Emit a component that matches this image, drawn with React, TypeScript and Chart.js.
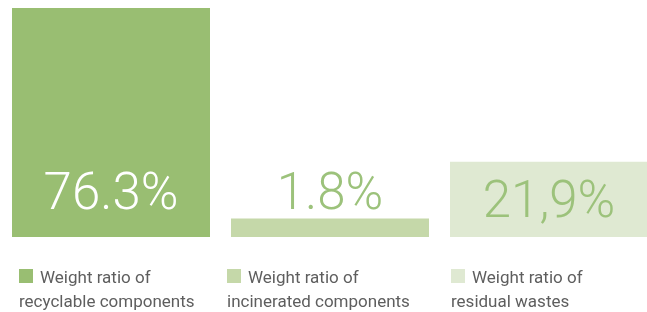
import React, { useEffect, useRef } from "react";
import { Chart, registerables } from "chart.js";

Chart.register(...registerables);

const categories = ["recyclable", "incinerated", "residual"];
const values = [76.3, 1.8, 21.9];
const valueLabels = ["76.3%", "1.8%", "21,9%"];
const legendLine1 = ["Weight ratio of", "Weight ratio of", "Weight ratio of"];
const legendLine2 = ["recyclable components", "incinerated components", "residual wastes"];
const barColors = ["#99BE72", "#C5D8A9", "#DFE9D2"];
const labelColors = ["#FFFFFF", "#9CC27B", "#9CC27B"];
const labelPlacement = ["bottom", "above", "center"];
const legendX = [19, 227, 451];
const axisMin = -4.7;

const overlayPlugin = {
  id: "overlay",
  afterDatasetsDraw(chart: any) {
    const ctx = chart.ctx;
    const meta = chart.getDatasetMeta(0);
    ctx.save();
    meta.data.forEach((bar: any, i: number) => {
      const props = bar.getProps(["x", "y", "base"], true);
      ctx.font = "300 51px Roboto";
      ctx.fillStyle = labelColors[i];
      ctx.textAlign = "center";
      ctx.textBaseline = "alphabetic";
      let y;
      if (labelPlacement[i] === "bottom") y = props.base - 28;
      else if (labelPlacement[i] === "above") y = props.y - 10;
      else y = (props.y + props.base) / 2 + 18;
      ctx.fillText(valueLabels[i], props.x, y);
    });
    legendX.forEach((x, i) => {
      ctx.fillStyle = barColors[i];
      ctx.fillRect(x, 269, 14, 14);
      ctx.fillStyle = "#5E5E5E";
      ctx.font = "17px Roboto";
      ctx.textAlign = "left";
      ctx.textBaseline = "alphabetic";
      ctx.fillText(legendLine1[i], x + 21, 283);
      ctx.fillText(legendLine2[i], x, 306.5);
    });
    ctx.restore();
  },
};

export default function App() {
  const ref = useRef<HTMLCanvasElement | null>(null);
  useEffect(() => {
    if (!ref.current) return;
    const chart = new Chart(ref.current, {
      type: "bar",
      data: {
        labels: categories,
        datasets: [
          {
            data: values,
            base: axisMin,
            backgroundColor: barColors,
            borderWidth: 0,
            barPercentage: 198 / 219,
            categoryPercentage: 1,
          },
        ],
      },
      options: {
        responsive: false,
        animation: false,
        layout: { padding: { left: 1.5, right: 1.5, top: 8, bottom: 75 } },
        plugins: { legend: { display: false }, tooltip: { enabled: false } },
        scales: {
          x: { display: false, offset: true },
          y: { display: false, min: axisMin, max: 76.3 },
        },
      },
      plugins: [overlayPlugin],
    });
    return () => chart.destroy();
  }, []);
  return (
    <div
      style={{
        position: "fixed",
        left: 0,
        top: 0,
        width: 647,
        height: 312,
        overflow: "hidden",
        background: "#fff",
      }}
    >
      <canvas ref={ref} width={660} height={312} style={{ width: 660, height: 312, display: "block" }} />
    </div>
  );
}
